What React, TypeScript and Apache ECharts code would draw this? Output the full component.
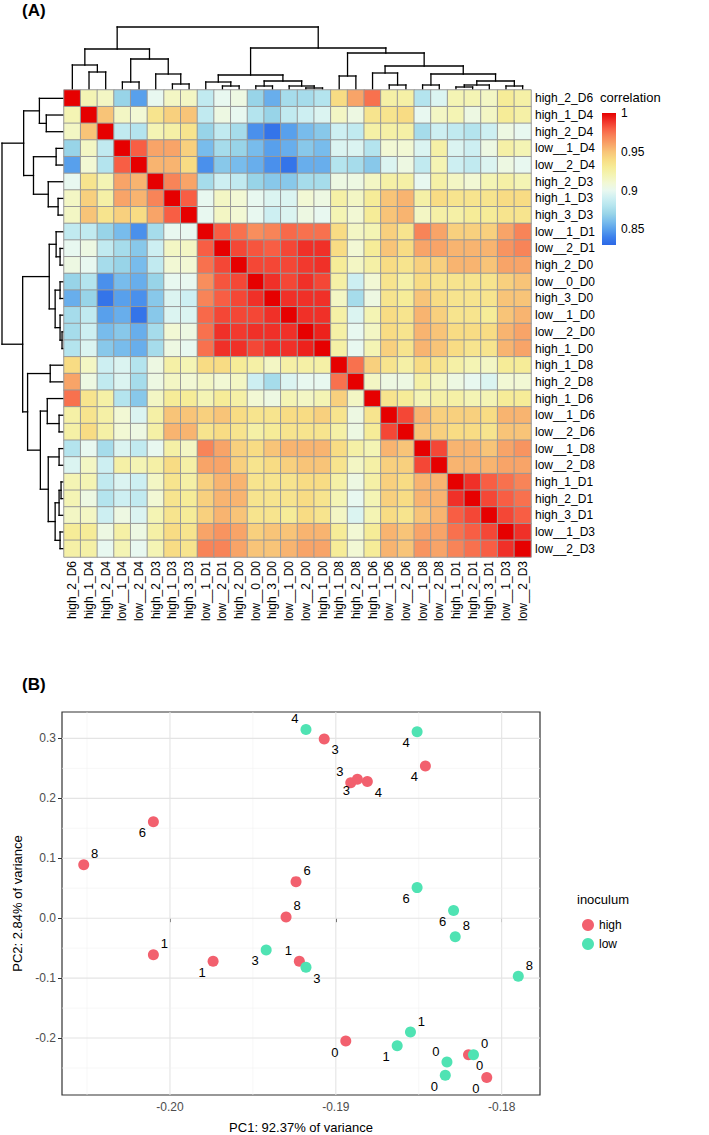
import React, { useEffect, useRef } from "react";
import * as echarts from "echarts";

const FONT = "'Liberation Sans', Arial, Helvetica, sans-serif";

const samples = [
  "high_2_D6", "high_1_D4", "high_2_D4", "low__1_D4", "low__2_D4", "high_2_D3", "high_1_D3",
  "high_3_D3", "low__1_D1", "low__2_D1", "high_2_D0", "low__0_D0", "high_3_D0", "low__1_D0",
  "low__2_D0", "high_1_D0", "high_1_D8", "high_2_D8", "high_1_D6", "low__1_D6", "low__2_D6",
  "low__1_D8", "low__2_D8", "high_1_D1", "high_2_D1", "high_3_D1", "low__1_D3", "low__2_D3",
];

// upper triangle of the correlation matrix: row i holds columns i+1 .. 27
const corrUpper: number[][] = [
  [0.92, 0.915, 0.87, 0.85, 0.9, 0.915, 0.915, 0.885, 0.9, 0.905, 0.87, 0.855, 0.875, 0.875, 0.88, 0.94, 0.96, 0.975, 0.925, 0.925, 0.88, 0.895, 0.92, 0.92, 0.915, 0.93, 0.925],
  [0.95, 0.915, 0.91, 0.935, 0.945, 0.95, 0.885, 0.905, 0.9, 0.88, 0.87, 0.885, 0.89, 0.895, 0.915, 0.905, 0.935, 0.935, 0.94, 0.9, 0.915, 0.92, 0.905, 0.915, 0.93, 0.925],
  [0.885, 0.88, 0.92, 0.925, 0.935, 0.87, 0.885, 0.875, 0.845, 0.835, 0.85, 0.86, 0.865, 0.89, 0.885, 0.925, 0.925, 0.925, 0.875, 0.89, 0.885, 0.88, 0.89, 0.905, 0.9],
  [0.98, 0.96, 0.96, 0.945, 0.86, 0.875, 0.87, 0.86, 0.85, 0.855, 0.865, 0.86, 0.895, 0.895, 0.88, 0.91, 0.91, 0.895, 0.925, 0.895, 0.89, 0.905, 0.925, 0.92],
  [0.955, 0.955, 0.94, 0.845, 0.865, 0.86, 0.855, 0.845, 0.835, 0.855, 0.855, 0.88, 0.875, 0.865, 0.895, 0.905, 0.885, 0.92, 0.89, 0.885, 0.895, 0.905, 0.9],
  [0.97, 0.96, 0.875, 0.89, 0.885, 0.87, 0.865, 0.865, 0.875, 0.875, 0.905, 0.905, 0.915, 0.925, 0.925, 0.9, 0.925, 0.915, 0.91, 0.92, 0.925, 0.92],
  [0.98, 0.9, 0.915, 0.91, 0.9, 0.895, 0.895, 0.91, 0.905, 0.925, 0.915, 0.93, 0.95, 0.955, 0.925, 0.94, 0.935, 0.935, 0.935, 0.94, 0.94],
  [0.9, 0.915, 0.91, 0.9, 0.89, 0.895, 0.905, 0.9, 0.92, 0.91, 0.93, 0.95, 0.955, 0.915, 0.925, 0.925, 0.93, 0.93, 0.935, 0.935],
  [0.98, 0.975, 0.967, 0.97, 0.977, 0.975, 0.975, 0.94, 0.915, 0.92, 0.945, 0.935, 0.97, 0.96, 0.945, 0.945, 0.945, 0.96, 0.97],
  [0.985, 0.982, 0.98, 0.985, 0.99, 0.99, 0.94, 0.91, 0.93, 0.95, 0.94, 0.96, 0.96, 0.955, 0.955, 0.955, 0.965, 0.97],
  [0.985, 0.985, 0.985, 0.988, 0.99, 0.93, 0.915, 0.925, 0.94, 0.935, 0.945, 0.945, 0.955, 0.955, 0.95, 0.96, 0.96],
  [0.99, 0.985, 0.99, 0.985, 0.925, 0.89, 0.91, 0.935, 0.925, 0.94, 0.935, 0.935, 0.935, 0.935, 0.945, 0.95],
  [0.99, 0.99, 0.99, 0.915, 0.875, 0.905, 0.935, 0.93, 0.95, 0.94, 0.935, 0.935, 0.935, 0.95, 0.95],
  [0.99, 0.99, 0.925, 0.895, 0.92, 0.94, 0.935, 0.955, 0.945, 0.935, 0.935, 0.93, 0.95, 0.955],
  [0.993, 0.925, 0.9, 0.915, 0.94, 0.935, 0.955, 0.95, 0.94, 0.94, 0.94, 0.955, 0.96],
  [0.925, 0.9, 0.92, 0.945, 0.935, 0.955, 0.95, 0.94, 0.935, 0.935, 0.955, 0.96],
  [0.975, 0.945, 0.935, 0.925, 0.94, 0.935, 0.925, 0.92, 0.915, 0.93, 0.93],
  [0.915, 0.905, 0.905, 0.925, 0.915, 0.905, 0.9, 0.895, 0.91, 0.91],
  [0.935, 0.93, 0.92, 0.925, 0.925, 0.92, 0.92, 0.93, 0.93],
  [0.985, 0.955, 0.945, 0.945, 0.945, 0.94, 0.955, 0.955],
  [0.95, 0.945, 0.94, 0.94, 0.935, 0.95, 0.95],
  [0.985, 0.955, 0.955, 0.95, 0.96, 0.965],
  [0.955, 0.955, 0.955, 0.96, 0.96],
  [0.99, 0.98, 0.975, 0.97],
  [0.985, 0.98, 0.975],
  [0.985, 0.98],
  [0.99],
];

const legendMin = 0.83;
const legendMax = 1.0;
const legendTicks = [0.85, 0.9, 0.95, 1];
const heatColors = [
  "#2c68e6", "#3c80ec", "#58a0ec", "#78bcec", "#98d4e8", "#b4e4ee", "#cdeff2", "#e8f8f0", "#f2f8d4",
  "#f4f4b4", "#f6ec98", "#f8dc84", "#f8c478", "#f8a468", "#f88458", "#f85e44", "#f03028", "#e60000",
];

// hierarchical clustering: [merge height, left, right]; leaves are sample indices
type Node = number | [number, Node, Node];
const sampleTree: Node = [63,
  [41, [25, 0, [18, 1, 2]], [31, [8, 3, 4], [16, 5, [6, 6, 7]]]],
  [42,
    [15, [8, 8, [4, 9, 10]], [9, [4, 11, 12], [4, 13, [2, 14, 15]]]],
    [37, [14, 16, 17], [24, [17, 18, [5, 19, 20]], [16, [5, 21, 22], [9, [5, [3, 23, 24], 25], [4, 26, 27]]]]],
  ],
];

// PCA
const highPC1 = [-0.2052, -0.201, -0.201, -0.1974, -0.1924, -0.193, -0.1922, -0.1894, -0.1907, -0.1891, -0.1887, -0.1881, -0.1846, -0.182, -0.1809];
const highPC2 = [0.089, 0.161, -0.061, -0.072, 0.061, 0.002, -0.072, -0.205, 0.299, 0.226, 0.232, 0.228, 0.254, -0.228, -0.266];
const highDay = ["8", "6", "1", "1", "6", "8", "1", "0", "3", "3", "3", "4", "4", "0", "0"];
const highLabelSide = ["tr", "bl", "tr", "bl", "tr", "tr", "tl", "bl", "br", "tl", "bl", "br", "bl", "br", "bl"];

const lowPC1 = [-0.1918, -0.1851, -0.1942, -0.1918, -0.1851, -0.1829, -0.1828, -0.179, -0.1855, -0.1863, -0.1833, -0.1834, -0.1817];
const lowPC2 = [0.315, 0.311, -0.053, -0.082, 0.051, 0.013, -0.031, -0.097, -0.19, -0.213, -0.24, -0.262, -0.228];
const lowDay = ["4", "4", "3", "3", "6", "6", "8", "8", "1", "1", "0", "0", "0"];
const lowLabelSide = ["tl", "bl", "bl", "br", "bl", "bl", "tr", "tr", "tr", "bl", "tl", "bl", "tr"];

const pc1Ticks = [-0.2, -0.19, -0.18];
const pc1Minor = [-0.205, -0.195, -0.185];
const pc2Ticks = [-0.2, -0.1, 0, 0.1, 0.2, 0.3];
const pc2Minor = [-0.25, -0.15, -0.05, 0.05, 0.15, 0.25];

const HIGH_COLOR = "#f2606e";
const LOW_COLOR = "#4fe3b3";

function fullMatrix(): number[][] {
  const n = samples.length;
  const m = Array.from({ length: n }, () => new Array(n).fill(1));
  corrUpper.forEach((row, i) =>
    row.forEach((v, k) => {
      const j = i + 1 + k;
      m[i][j] = v;
      m[j][i] = v;
    })
  );
  return m;
}

function dendroSegments(tree: Node): number[][] {
  const segs: number[][] = [];
  const walk = (n: Node): [number, number] => {
    if (typeof n === "number") return [n + 0.5, 0];
    const [h, l, r] = n;
    const [xl, hl] = walk(l);
    const [xr, hr] = walk(r);
    segs.push([xl, hl, xl, h]);
    segs.push([xr, hr, xr, h]);
    segs.push([xl, h, xr, h]);
    return [(xl + xr) / 2, h];
  };
  walk(tree);
  return segs;
}

function expand(vals: number[]): [number, number] {
  const lo = Math.min(...vals);
  const hi = Math.max(...vals);
  const pad = (hi - lo) * 0.05;
  return [lo - pad, hi + pad];
}

const SYM = 11;
function labelPos(side: string): number[] {
  const dx = 11;
  const dy = 11;
  const c = SYM / 2;
  if (side === "tr") return [c + dx, c - dy];
  if (side === "tl") return [c - dx, c - dy];
  if (side === "br") return [c + dx, c + dy];
  return [c - dx, c + dy];
}

function buildOption() {
  const n = samples.length;
  const m = fullMatrix();
  const heatData: number[][] = [];
  for (let r = 0; r < n; r++) for (let c = 0; c < n; c++) heatData.push([c, r, m[r][c]]);

  const segs = dendroSegments(sampleTree);
  const rootH = (sampleTree as any)[0];
  const lineRender = (swap: boolean) => (params: any, api: any) => {
    const a = swap ? api.coord([api.value(1), api.value(0)]) : api.coord([api.value(0), api.value(1)]);
    const b = swap ? api.coord([api.value(3), api.value(2)]) : api.coord([api.value(2), api.value(3)]);
    return {
      type: "line",
      shape: { x1: a[0], y1: a[1], x2: b[0], y2: b[1] },
      style: { stroke: "#000", lineWidth: 1.3, lineCap: "square" },
    };
  };

  const stops = heatColors.map((col, i) => ({ offset: i / (heatColors.length - 1), color: heatColors[heatColors.length - 1 - i] }));

  const [xMin, xMax] = expand([...highPC1, ...lowPC1]);
  const [yMin, yMax] = expand([...highPC2, ...lowPC2]);

  const gridLines: number[][] = [];
  pc1Ticks.forEach((v) => gridLines.push([v, 0]));
  pc1Minor.forEach((v) => gridLines.push([v, 1]));
  pc2Ticks.forEach((v) => gridLines.push([v, 2]));
  pc2Minor.forEach((v) => gridLines.push([v, 3]));

  const pointData = (xs: number[], ys: number[], days: string[], sides: string[]) =>
    xs.map((x, i) => ({
      value: [x, ys[i]],
      label: {
        show: true,
        formatter: days[i],
        position: labelPos(sides[i]),
        align: "center",
        verticalAlign: "middle",
        color: "#000",
        fontSize: 13,
        fontFamily: FONT,
      },
    }));

  const hideAxis = { show: false };

  return {
    animation: false,
    backgroundColor: "#fff",
    textStyle: { fontFamily: FONT },
    grid: [
      { left: 64, top: 27, width: 467, height: 63 },
      { left: 2, top: 90, width: 62, height: 467 },
      { left: 64, top: 90, width: 467, height: 467 },
      { left: 602, top: 113, width: 14, height: 132 },
      { left: 62, top: 712, width: 478, height: 386, show: true, borderColor: "#333", borderWidth: 1.2, backgroundColor: "#fff", z: 0 },
    ],
    xAxis: [
      { gridIndex: 0, type: "value", min: 0, max: n, ...hideAxis },
      { gridIndex: 1, type: "value", min: 0, max: rootH, inverse: true, ...hideAxis },
      {
        gridIndex: 2, type: "category", data: samples, position: "bottom",
        axisLine: { show: false }, axisTick: { show: false }, splitLine: { show: false },
        axisLabel: { rotate: 90, interval: 0, fontSize: 12, color: "#000", margin: 4, fontFamily: FONT },
      },
      { gridIndex: 3, type: "value", min: 0, max: 1, ...hideAxis },
      {
        gridIndex: 4, type: "value", min: xMin, max: xMax, position: "bottom",
        axisLine: { show: false }, splitLine: { show: false },
        axisTick: { show: true, customValues: pc1Ticks, length: 4, lineStyle: { color: "#333" } },
        axisLabel: { customValues: pc1Ticks, formatter: (v: number) => v.toFixed(2), color: "#4d4d4d", fontSize: 12, margin: 6 },
        name: "PC1: 92.37% of variance", nameLocation: "middle", nameGap: 26,
        nameTextStyle: { fontSize: 13, color: "#000" },
      },
    ],
    yAxis: [
      { gridIndex: 0, type: "value", min: 0, max: rootH, ...hideAxis },
      { gridIndex: 1, type: "value", min: 0, max: n, inverse: true, ...hideAxis },
      {
        gridIndex: 2, type: "category", data: samples, inverse: true, position: "right",
        axisLine: { show: false }, axisTick: { show: false }, splitLine: { show: false },
        axisLabel: { interval: 0, fontSize: 12, color: "#000", margin: 4, fontFamily: FONT },
      },
      {
        gridIndex: 3, type: "value", min: legendMin, max: legendMax, position: "right",
        axisLine: { show: false }, axisTick: { show: false }, splitLine: { show: false },
        axisLabel: { customValues: legendTicks, formatter: (v: number) => String(+v.toFixed(2)), fontSize: 12, color: "#000", margin: 5 },
      },
      {
        gridIndex: 4, type: "value", min: yMin, max: yMax,
        axisLine: { show: false }, splitLine: { show: false },
        axisTick: { show: true, customValues: pc2Ticks, length: 4, lineStyle: { color: "#333" } },
        axisLabel: { customValues: pc2Ticks, formatter: (v: number) => v.toFixed(1), color: "#4d4d4d", fontSize: 12, margin: 6 },
        name: "PC2: 2.84% of variance", nameLocation: "middle", nameGap: 36, nameRotate: 90,
        nameTextStyle: { fontSize: 13, color: "#000" },
      },
    ],
    visualMap: {
      type: "continuous", show: false, seriesIndex: 2,
      min: legendMin, max: legendMax, inRange: { color: heatColors },
    },
    legend: {
      data: ["high", "low"], orient: "vertical", left: 577, top: 914, itemGap: 7,
      itemWidth: 12, itemHeight: 12, icon: "circle",
      textStyle: { fontSize: 12, color: "#000" },
    },
    graphic: [
      { type: "text", left: 22, top: 2, style: { text: "(A)", font: `bold 17px ${FONT}`, fill: "#000" } },
      { type: "text", left: 22, top: 676, style: { text: "(B)", font: `bold 17px ${FONT}`, fill: "#000" } },
      { type: "text", left: 600, top: 91, style: { text: "correlation", font: `13px ${FONT}`, fill: "#000" } },
      { type: "text", left: 577, top: 893, style: { text: "inoculum", font: `13px ${FONT}`, fill: "#000" } },
    ],
    series: [
      {
        type: "custom", xAxisIndex: 0, yAxisIndex: 0, data: segs, renderItem: lineRender(false),
        encode: { x: [0, 2], y: [1, 3] }, silent: true,
      },
      {
        type: "custom", xAxisIndex: 1, yAxisIndex: 1, data: segs, renderItem: lineRender(true),
        encode: { x: [1, 3], y: [0, 2] }, silent: true,
      },
      {
        type: "heatmap", xAxisIndex: 2, yAxisIndex: 2, data: heatData,
        itemStyle: { borderColor: "#999999", borderWidth: 1 },
      },
      {
        type: "custom", xAxisIndex: 3, yAxisIndex: 3, data: [[0.5, 0.9]], silent: true,
        renderItem: (params: any, api: any) => {
          const top = api.coord([0, legendMax]);
          const bot = api.coord([0, legendMin]);
          const cs = params.coordSys;
          return {
            type: "rect",
            shape: { x: cs.x, y: top[1], width: cs.width, height: bot[1] - top[1] },
            style: { fill: new echarts.graphic.LinearGradient(0, 0, 0, 1, stops) },
          };
        },
      },
      {
        type: "custom", xAxisIndex: 4, yAxisIndex: 4, data: gridLines, silent: true, clip: false, z: 1,
        renderItem: (params: any, api: any) => {
          const cs = params.coordSys;
          const v = api.value(0);
          const kind = api.value(1);
          const major = kind === 0 || kind === 2;
          const style = { stroke: major ? "#e4e4e4" : "#f1f1f1", lineWidth: major ? 1.1 : 0.6 };
          if (kind < 2) {
            const p = api.coord([v, yMin]);
            return { type: "line", shape: { x1: p[0], y1: cs.y, x2: p[0], y2: cs.y + cs.height }, style };
          }
          const p = api.coord([xMin, v]);
          return { type: "line", shape: { x1: cs.x, y1: p[1], x2: cs.x + cs.width, y2: p[1] }, style };
        },
      },
      {
        name: "high", type: "scatter", xAxisIndex: 4, yAxisIndex: 4, symbolSize: SYM, z: 5,
        itemStyle: { color: HIGH_COLOR, opacity: 1 },
        data: pointData(highPC1, highPC2, highDay, highLabelSide),
      },
      {
        name: "low", type: "scatter", xAxisIndex: 4, yAxisIndex: 4, symbolSize: SYM, z: 5,
        itemStyle: { color: LOW_COLOR, opacity: 1 },
        data: pointData(lowPC1, lowPC2, lowDay, lowLabelSide),
      },
    ],
  };
}

export default function App() {
  const ref = useRef<HTMLDivElement>(null);
  useEffect(() => {
    const chart = echarts.init(ref.current as HTMLDivElement, undefined, { renderer: "svg" });
    chart.setOption(buildOption() as any);
    return () => chart.dispose();
  }, []);
  return (
    <div
      ref={ref}
      style={{ position: "fixed", left: 0, top: 0, width: 709, height: 1135, background: "#fff" }}
    />
  );
}
